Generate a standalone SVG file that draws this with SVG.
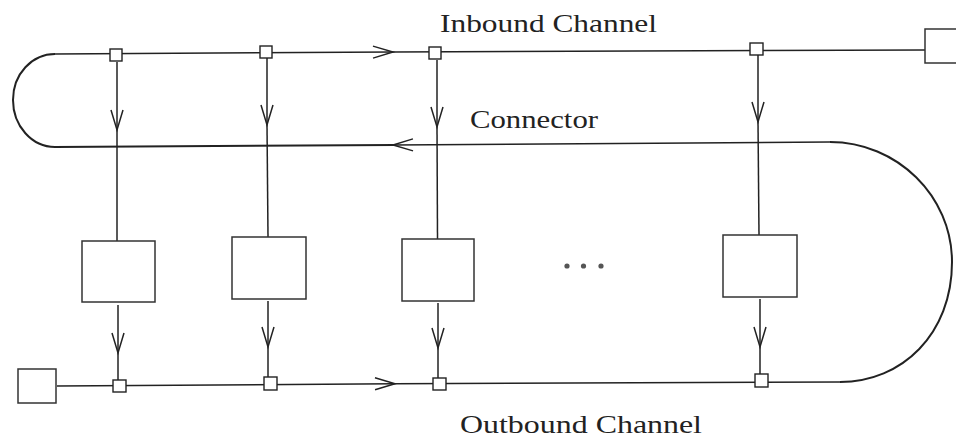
<svg xmlns="http://www.w3.org/2000/svg" width="956" height="445" viewBox="0 0 956 445">
<defs>
<marker id="ah" viewBox="-22 -8 24 16" refX="0" refY="0" markerWidth="24" markerHeight="16" markerUnits="userSpaceOnUse" orient="auto" overflow="visible">
<path d="M-20,-6 L0,0 L-20,6" fill="none" stroke="#222" stroke-width="1.5"/>
</marker>
<style>
.ln{fill:none;stroke:#222;stroke-width:1.5}
.lp{fill:none;stroke:#222;stroke-width:2}
.bx{fill:#fff;stroke:#333;stroke-width:1.5}
.sq{fill:#fff;stroke:#222;stroke-width:1.4}
.tx{font-family:"Liberation Serif","Times New Roman",serif;font-size:26px;fill:#222}
</style>
</defs>
<rect width="956" height="445" fill="#fff"/>
<g id="connectors">
<!-- inbound channel with left loop -->
<path class="lp" d="M395,145 L55,147 C32,147 13,126 13,100 C13,74 32,54 55,54"/>
<path class="ln" d="M55,54 L393,52" marker-end="url(#ah)"/>
<path class="ln" d="M393,52 L925,50"/>
<!-- connector with right loop -->
<path class="lp" d="M840,382 C902,382 952,334 952,262 C952,196 897,142 830,142"/>
<path class="ln" d="M830,142 L393,145" marker-end="url(#ah)"/>
<!-- outbound channel -->
<path class="ln" d="M57,386 L395,383.7" marker-end="url(#ah)"/>
<path class="ln" d="M395,383.7 L840,382"/>
<!-- verticals upper -->
<path class="ln" d="M117,62 L117,130" marker-end="url(#ah)"/>
<path class="ln" d="M117,130 L117,241"/>
<path class="ln" d="M267,58 L267,125" marker-end="url(#ah)"/>
<path class="ln" d="M267,125 L268,237"/>
<path class="ln" d="M437,60 L437,127" marker-end="url(#ah)"/>
<path class="ln" d="M437,127 L437.5,239"/>
<path class="ln" d="M758,55 L758,122" marker-end="url(#ah)"/>
<path class="ln" d="M758,122 L759,235"/>
<!-- verticals lower -->
<path class="ln" d="M118,305 L118,353" marker-end="url(#ah)"/>
<path class="ln" d="M118,353 L118,380"/>
<path class="ln" d="M268,301 L268,347" marker-end="url(#ah)"/>
<path class="ln" d="M268,347 L268,377"/>
<path class="ln" d="M438,303 L438,348" marker-end="url(#ah)"/>
<path class="ln" d="M438,348 L438,378"/>
<path class="ln" d="M760,299 L760,347" marker-end="url(#ah)"/>
<path class="ln" d="M760,347 L760,374"/>
</g>
<g id="tap-in-1"><rect class="sq" x="110" y="49" width="12" height="12"/></g>
<g id="tap-in-2"><rect class="sq" x="260" y="46" width="12" height="12"/></g>
<g id="tap-in-3"><rect class="sq" x="429" y="47" width="12" height="12"/></g>
<g id="tap-in-4"><rect class="sq" x="750" y="43" width="13" height="12"/></g>
<g id="tap-out-1"><rect class="sq" x="113" y="380" width="13" height="12"/></g>
<g id="tap-out-2"><rect class="sq" x="264" y="377" width="13" height="13"/></g>
<g id="tap-out-3"><rect class="sq" x="433" y="378" width="13" height="12"/></g>
<g id="tap-out-4"><rect class="sq" x="755" y="374" width="13" height="13"/></g>
<g id="station-1"><rect class="bx" x="82" y="241" width="73" height="61"/></g>
<g id="station-2"><rect class="bx" x="232" y="237" width="74" height="62"/></g>
<g id="station-3"><rect class="bx" x="402" y="239" width="72" height="62"/></g>
<g id="station-4"><rect class="bx" x="723" y="235" width="74" height="62"/></g>
<g id="terminal-out"><rect class="bx" x="18" y="369" width="38" height="34"/></g>
<g id="terminal-in"><rect class="bx" x="925" y="29" width="40" height="34"/></g>
<g id="ellipsis">
<circle cx="567" cy="266" r="2.6" fill="#555"/>
<circle cx="583.5" cy="266" r="2.6" fill="#555"/>
<circle cx="601" cy="266" r="2.6" fill="#555"/>
</g>
<g id="labels">
<text class="tx" x="440" y="32" textLength="217" lengthAdjust="spacingAndGlyphs">Inbound Channel</text>
<text class="tx" x="470" y="128" textLength="128" lengthAdjust="spacingAndGlyphs">Connector</text>
<text class="tx" x="460" y="433" textLength="242" lengthAdjust="spacingAndGlyphs">Outbound Channel</text>
</g>
</svg>
